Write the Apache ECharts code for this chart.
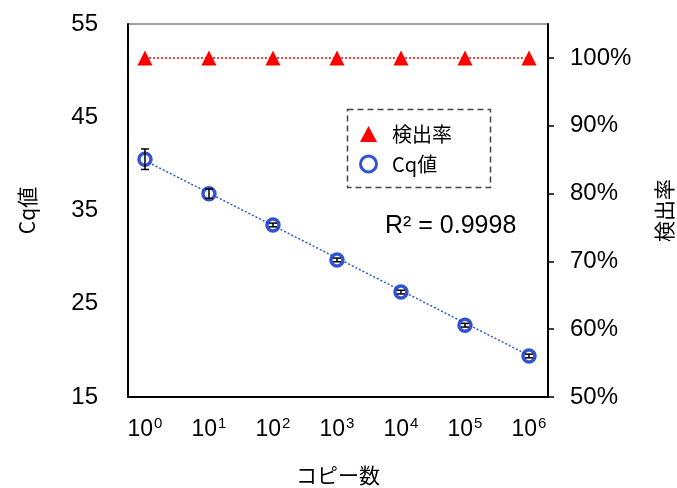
<!DOCTYPE html>
<html><head><meta charset="utf-8">
<script src="https://cdn.jsdelivr.net/npm/echarts@6/dist/echarts.min.js"></script>
<style>html,body{margin:0;padding:0;background:#fff}#c{width:677px;height:488px}</style>
</head><body><div id="c"></div>
<script>
// exponents of copy number (10^n)
const exponents = [0, 1, 2, 3, 4, 5, 6];
const cqValues = [40.5, 36.8, 33.45, 29.7, 26.25, 22.7, 19.4];
const cqErrors = [1.1, 0.5, 0.2, 0.2, 0.2, 0.2, 0.2];
const detectionRate = [100, 100, 100, 100, 100, 100, 100];
const trendX = [0, 6];
const trendY = [40.35, 19.45];
const leftTicks = [15, 25, 35, 45, 55];
const rightTicks = [50, 60, 70, 80, 90, 100];
const r2Text = 'R² = 0.9998';

const FONT = '"Liberation Sans", Arial, "Noto Sans CJK JP", sans-serif';
const JFONT = '"Noto Sans CJK JP", "Liberation Sans", sans-serif';
const chart = echarts.init(document.getElementById('c'), null, {renderer: 'canvas'});

const cqData = exponents.map((e, i) => [e, cqValues[i]]);
const rateData = exponents.map((e, i) => [e, detectionRate[i]]);
const errData = exponents.map((e, i) => [e, cqValues[i] - cqErrors[i], cqValues[i] + cqErrors[i]]);
const trendData = trendX.map((x, i) => [x, trendY[i]]);

chart.setOption({
  animation: false,
  textStyle: {fontFamily: FONT},
  grid: {left: 128, right: 129, top: 24, bottom: 91, show: true, borderColor: '#444', borderWidth: 1,
         outerBoundsMode: 'none', containLabel: false},
  legend: {
    orient: 'vertical', left: 354, top: 119, itemGap: 10, itemWidth: 17, itemHeight: 16,
    textStyle: {fontFamily: JFONT, fontSize: 20, color: '#000', padding: [0, 0, 0, 10]},
    data: [
      {name: '検出率', icon: 'triangle', itemStyle: {color: '#ff0000', borderWidth: 0}},
      {name: 'Cq値', icon: 'circle', itemStyle: {color: '#fff', borderColor: '#0028c8', borderWidth: 3}}
    ]
  },
  graphic: [
    {type: 'rect', left: 345, top: 107, shape: {width: 143, height: 78}, z: 100,
     style: {fill: 'none', stroke: '#444', lineWidth: 1.5, lineDash: [6, 4]}},
    {type: 'text', left: 385, top: 214, z: 100,
     style: {text: r2Text, font: '25px ' + FONT, fill: '#000'}}
  ],
  xAxis: {
    type: 'value', min: -0.265, max: 6.297,
    name: 'コピー数', nameLocation: 'middle', nameGap: 68,
    nameTextStyle: {fontFamily: JFONT, fontSize: 21, color: '#000'},
    axisLine: {onZero: false, lineStyle: {color: '#000', width: 2}},
    axisTick: {show: false},
    splitLine: {show: false},
    axisLabel: {
      customValues: exponents, margin: 19, color: '#000',
      formatter: v => '{b|10}{s|' + v + '}',
      rich: {b: {fontSize: 23, fontFamily: FONT, color: '#000'},
             s: {fontSize: 15, fontFamily: FONT, color: '#000', padding: [0, 0, 12, 1]}}
    }
  },
  yAxis: [
    {type: 'value', min: 15, max: 55, interval: 10, position: 'left',
     name: 'Cq値', nameLocation: 'middle', nameGap: 90, nameRotate: 90,
     nameTextStyle: {fontFamily: JFONT, fontSize: 21, color: '#000'},
     axisLine: {show: true, onZero: false, lineStyle: {color: '#000', width: 2}},
     axisTick: {show: false}, splitLine: {show: false},
     axisLabel: {customValues: leftTicks, fontSize: 24, color: '#000', margin: 30}},
    {type: 'value', min: 50, max: 105, position: 'right',
     name: '検出率', nameLocation: 'middle', nameGap: 106, nameRotate: 90,
     nameTextStyle: {fontFamily: JFONT, fontSize: 21, color: '#000'},
     axisLine: {show: true, onZero: false, lineStyle: {color: '#000', width: 2}},
     axisTick: {show: true, customValues: rightTicks, length: 6, lineStyle: {color: '#000', width: 1.5}},
     splitLine: {show: false},
     axisLabel: {customValues: rightTicks, fontSize: 24, color: '#000', margin: 22, formatter: v => v + '%'}}
  ],
  series: [
    {name: 'trend', type: 'line', data: trendData, yAxisIndex: 0, showSymbol: false, symbol: 'none',
     lineStyle: {color: '#2a5ad8', width: 1.5, type: [2, 2]}, z: 1, silent: true},
    {name: '検出率', type: 'line', data: rateData, yAxisIndex: 1, symbol: 'triangle', symbolSize: 15,
     itemStyle: {color: '#ff0000'}, lineStyle: {color: '#ff0000', width: 1.5, type: [2, 2]}, z: 3},
    {name: 'Cq値', type: 'scatter', data: cqData, yAxisIndex: 0, symbol: 'circle', symbolSize: 12,
     itemStyle: {color: '#fff', borderColor: '#0028c8', borderWidth: 3.5}, z: 4},
    {name: 'err', type: 'custom', yAxisIndex: 0, data: errData, z: 5, silent: true,
     renderItem: (params, api) => {
       const x = api.value(0);
       const lo = api.coord([x, api.value(1)]);
       const hi = api.coord([x, api.value(2)]);
       const w = 4;
       const st = {stroke: '#000', lineWidth: 1.5};
       return {type: 'group', children: [
         {type: 'line', shape: {x1: lo[0], y1: lo[1], x2: hi[0], y2: hi[1]}, style: st},
         {type: 'line', shape: {x1: lo[0] - w, y1: lo[1], x2: lo[0] + w, y2: lo[1]}, style: st},
         {type: 'line', shape: {x1: hi[0] - w, y1: hi[1], x2: hi[0] + w, y2: hi[1]}, style: st}
       ]};
     }}
  ]
});
</script></body></html>
